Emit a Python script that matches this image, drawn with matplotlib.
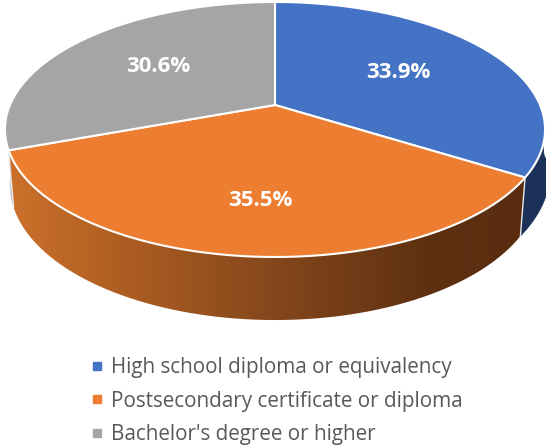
import numpy as np
from matplotlib import pyplot as plt
from matplotlib.lines import Line2D
from matplotlib.patches import Polygon
from matplotlib.colors import to_rgb

categories = ["High school diploma or equivalency", "Postsecondary certificate or diploma", "Bachelor's degree or higher"]
shares = [33.9, 35.5, 30.6]
colors = ["#4472C4", "#ED7D31", "#A5A5A5"]
side_colors = ["#1B3158", None, "#C9C9C9"]

CX = 275
TILT = 0.192


def project(theta, R, H, cy):
	# theta clockwise from 12 o'clock, in degrees
	t = np.radians(theta)
	u, v = np.sin(t), -np.cos(t)
	w = 1 - TILT * v
	return CX + R * u / w, cy + H * v / w


def top(theta):
	return project(theta, 265, 122.8, 105)


def bottom(theta, R=260):
	return project(theta, R, 129.7, 159.5)


def wall(a0, a1, R=260):
	ts = np.linspace(a0, a1, 200)
	xt, yt = top(ts)
	rb = np.interp(ts, [95, edges[1]], [R, 260])
	xb, yb = bottom(ts[::-1], rb[::-1])
	return np.c_[np.r_[xt, xb], np.r_[yt, yb]]


fig = plt.figure(figsize=(5.46, 4.46), dpi=100)
ax = fig.add_axes([0, 0, 1, 1])
ax.set_xlim(0, 546)
ax.set_ylim(446, 0)
ax.axis("off")

edges = np.concatenate([[0], np.cumsum(shares)]) * 3.6

# side walls, only the part that faces the viewer
ax.fill(*wall(edges[2], 272).T, color=side_colors[2], lw=0.5, zorder=1)
ax.fill(*wall(88, edges[1], R=271).T, color=side_colors[0], lw=0.5, zorder=1)

stops = [13, 120, 275, 430, 520]
stop_cols = np.array([to_rgb(c) for c in ["#CB702B", "#AE5E22", "#84471B", "#5E3012", "#5A2D10"]])
gx = np.arange(0, 546)
grad = np.stack([np.interp(gx, stops, stop_cols[:, i]) for i in range(3)], axis=-1)[None, :, :]
im = ax.imshow(grad, extent=(0, 546, 446, 0), aspect="auto", zorder=1.5, interpolation="bilinear")
clip = Polygon(wall(edges[1], edges[2]), closed=True, transform=ax.transData)
im.set_clip_path(clip)
ax.set_xlim(0, 546)
ax.set_ylim(446, 0)

# white seams where the slices meet on the wall
for a in [edges[1], edges[2]]:
	x0, y0 = top(a)
	x1, y1 = bottom(a)
	ax.plot([x0, x1], [y0, y1], color="#E8E8E8", lw=1.0, zorder=2)

# top face
cx0, cy0 = top(0)[0], 105
for i in range(3):
	ts = np.linspace(edges[i], edges[i + 1], 200)
	xs, ys = top(ts)
	ax.fill(np.r_[cx0, xs], np.r_[cy0, ys], facecolor=colors[i], edgecolor="white", lw=1.5, joinstyle="round", zorder=3)

ax.text(398, 72.5, "33.9%", color="white", fontsize=16, fontweight="bold", family="Open Sans", ha="center", va="center", zorder=5)
ax.text(260, 200.5, "35.5%", color="white", fontsize=16, fontweight="bold", family="Open Sans", ha="center", va="center", zorder=5)
ax.text(158, 66.5, "30.6%", color="white", fontsize=16, fontweight="bold", family="Open Sans", ha="center", va="center", zorder=5)

handles = [Line2D([], [], ls="", marker="s", ms=5.5, color=c) for c in colors]
ax.legend(handles, categories, loc="upper left", bbox_to_anchor=(0.167, 0.2), frameon=False,
	prop={"family": "Open Sans", "size": 14.9}, labelcolor="#595959", handlelength=0.55, handletextpad=0.41,
	labelspacing=0.62, borderpad=0, borderaxespad=0)

plt.savefig("out.png", dpi=100)
